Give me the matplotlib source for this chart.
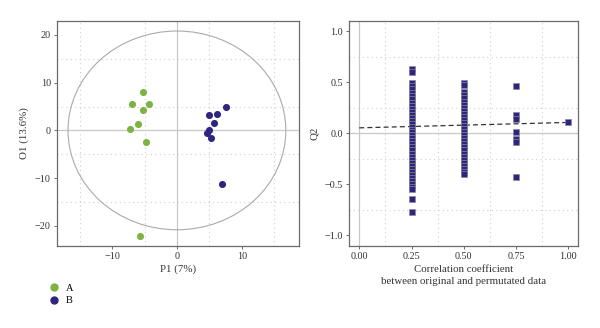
import matplotlib
matplotlib.use("Agg")
import matplotlib.pyplot as plt
from matplotlib.patches import Ellipse
from matplotlib.lines import Line2D

plt.rcParams['font.family'] = ['Liberation Serif', 'DejaVu Serif']

# ---- Score plot data ----
groups = ["A", "B"]
a_p1 = [-5.2, -6.9, -4.3, -5.3, -6.0, -7.2, -4.8, -5.7]
a_o1 = [8.0, 5.5, 5.6, 4.3, 1.3, 0.2, -2.5, -22.2]
b_p1 = [7.5, 4.9, 6.15, 5.7, 5.0, 4.7, 5.3, 6.9]
b_o1 = [4.9, 3.2, 3.45, 1.55, 0.15, -0.55, -1.5, -11.2]
ellipse_p1 = 16.8
ellipse_o1 = 20.8

# ---- Permutation plot data ----
q2_025 = [0.63, 0.60, 0.49, 0.46, 0.43, 0.39, 0.36, 0.33, 0.30, 0.27, 0.24,
          0.21, 0.18, 0.15, 0.12, 0.09, 0.06, 0.03, 0.01, -0.02, -0.05, -0.08,
          -0.11, -0.14, -0.17, -0.20, -0.23, -0.26, -0.29, -0.32, -0.35, -0.38,
          -0.41, -0.44, -0.47, -0.50, -0.53, -0.55, -0.65, -0.77]
q2_050 = [0.49, 0.47, 0.40, 0.37, 0.34, 0.31, 0.28, 0.25, 0.22, 0.19, 0.16,
          0.13, 0.10, 0.07, 0.04, 0.01, -0.02, -0.05, -0.08, -0.11, -0.14,
          -0.17, -0.20, -0.23, -0.26, -0.29, -0.32, -0.35, -0.38, -0.40]
q2_075 = [0.46, 0.18, 0.14, 0.01, -0.06, -0.09, -0.43]
q2_100 = [0.105]
corr_levels = [0.25, 0.50, 0.75, 1.00]
reg_x = [0.0, 1.0]
reg_y = [0.052, 0.105]

green = "#7cb342"
navy = "#2e2580"
gridc = "#cfcfcf"
spinec = "#6a6a6a"

fig = plt.figure(figsize=(6.0, 3.28), dpi=100)
ax1 = fig.add_axes([0.095, 0.25, 0.403, 0.686])
ax2 = fig.add_axes([0.582, 0.25, 0.382, 0.686])

def style(ax):
    for s in ax.spines.values():
        s.set_color(spinec)
        s.set_linewidth(0.9)
    ax.tick_params(axis='both', labelsize=7.3, color=spinec, length=2.5,
                   width=0.7, labelcolor="#333333", pad=2)
    ax.tick_params(which='minor', length=0)
    ax.set_axisbelow(True)

# Left: scores
style(ax1)
ax1.set_xlim(-18.5, 18.8)
ax1.set_ylim(-24.2, 22.9)
ax1.set_xticks([-10, 0, 10])
ax1.set_xticklabels(["\u221210", "0", "10"])
ax1.set_yticks([-20, -10, 0, 10, 20])
ax1.set_yticklabels(["\u221220", "\u221210", "0", "10", "20"])
ax1.set_xticks([-15, -10, -5, 5, 10, 15], minor=True)
ax1.set_yticks([-20, -15, -10, -5, 5, 10, 15, 20], minor=True)
ax1.grid(which='minor', color=gridc, linestyle=(0, (1, 3)), linewidth=0.8)
ax1.axhline(0, color="#c8c8c8", lw=0.9, zorder=1)
ax1.axvline(0, color="#c8c8c8", lw=0.9, zorder=1)
ax1.add_patch(Ellipse((0, 0), 2 * ellipse_p1, 2 * ellipse_o1, fill=False,
                      edgecolor="#aaaaaa", lw=0.8, zorder=2))
ax1.scatter(a_p1, a_o1, s=26, color=green, zorder=3, linewidths=0)
ax1.scatter(b_p1, b_o1, s=26, color=navy, zorder=3, linewidths=0)
ax1.set_xlabel("P1 (7%)", fontsize=7.8, color="#333333", labelpad=2)
ax1.set_ylabel("O1 (13.6%)", fontsize=7.8, color="#333333", labelpad=4)

handles = [Line2D([], [], marker='o', linestyle='none', color=green, markersize=5),
           Line2D([], [], marker='o', linestyle='none', color=navy, markersize=5)]
fig.legend(handles, groups, loc='upper left', bbox_to_anchor=(0.075, 0.148),
           frameon=False, fontsize=7.5, handletextpad=0.6, labelspacing=0.3,
           handlelength=1.0, borderaxespad=0)

# Right: permutation
style(ax2)
ax2.set_xlim(-0.048, 1.048)
ax2.set_ylim(-1.107, 1.1)
ax2.set_xticks([0.0, 0.25, 0.5, 0.75, 1.0])
ax2.set_xticklabels(["0.00", "0.25", "0.50", "0.75", "1.00"])
ax2.set_yticks([-1.0, -0.5, 0.0, 0.5, 1.0])
ax2.set_yticklabels(["\u22121.0", "\u22120.5", "0.0", "0.5", "1.0"])
ax2.set_xticks([0.125 * i for i in range(9)], minor=True)
ax2.set_yticks([-1.0, -0.75, -0.5, -0.25, 0.25, 0.5, 0.75, 1.0], minor=True)
ax2.grid(which='minor', color=gridc, linestyle=(0, (1, 3)), linewidth=0.8)
ax2.axhline(0, color="#c8c8c8", lw=0.9, zorder=1)
ax2.axvline(0, color="#c8c8c8", lw=0.9, zorder=1)
ax2.plot(reg_x, reg_y, linestyle=(0, (4, 2.5)), color="#333333", lw=0.9, zorder=2)
for lvl, vals in zip(corr_levels, [q2_025, q2_050, q2_075, q2_100]):
    ax2.scatter([lvl] * len(vals), vals, marker='s', s=20, color=navy,
                edgecolors="#8a8a9a", linewidths=0.5, zorder=3)
ax2.set_xlabel("Correlation coefficient\nbetween original and permutated data",
               fontsize=7.8, color="#333333", labelpad=3, linespacing=1.3)
ax2.set_ylabel("Q2", fontsize=7.8, color="#333333", labelpad=4)

fig.savefig("out.png", dpi=100)
